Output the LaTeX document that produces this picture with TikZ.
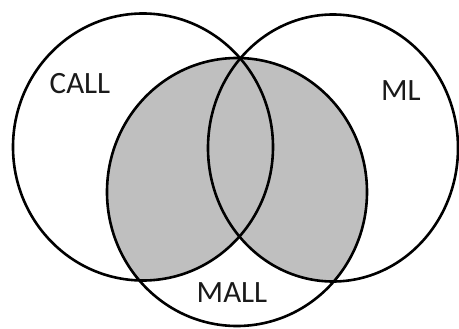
\documentclass[tikz,border=0pt]{standalone}
\usepackage{fontspec}
\setmainfont{Carlito}
\definecolor{venngray}{HTML}{BFBFBF}
\definecolor{inkc}{HTML}{1A1A1A}
\begin{document}
\begin{tikzpicture}[x=1pt,y=-1pt,
  ring/.style={draw=black,line width=2.6pt},
  setlabel/.style={font=\fontsize{31}{31}\selectfont,text=inkc,inner sep=0pt}]
\useasboundingbox[fill=white] (0,0) rectangle (459,329);
\coordinate (callc) at (143,147);
\coordinate (mlc) at (333,148);
\coordinate (mallc) at (237,192);
\begin{scope}
  \clip (mallc) ellipse [x radius=130, y radius=134];
  \fill[venngray] (callc) ellipse [x radius=130, y radius=133.5];
  \fill[venngray] (mlc) ellipse [x radius=125, y radius=133.5];
\end{scope}
\draw[ring] (callc) ellipse [x radius=130, y radius=133.5];
\draw[ring] (mlc) ellipse [x radius=125, y radius=133.5];
\draw[ring] (mallc) ellipse [x radius=130, y radius=134];
\node[setlabel] (call) at (80,84) {CALL};
\node[setlabel] (ml) at (401,91) {ML};
\node[setlabel] (mall) at (232,293) {MALL};
\end{tikzpicture}
\end{document}
